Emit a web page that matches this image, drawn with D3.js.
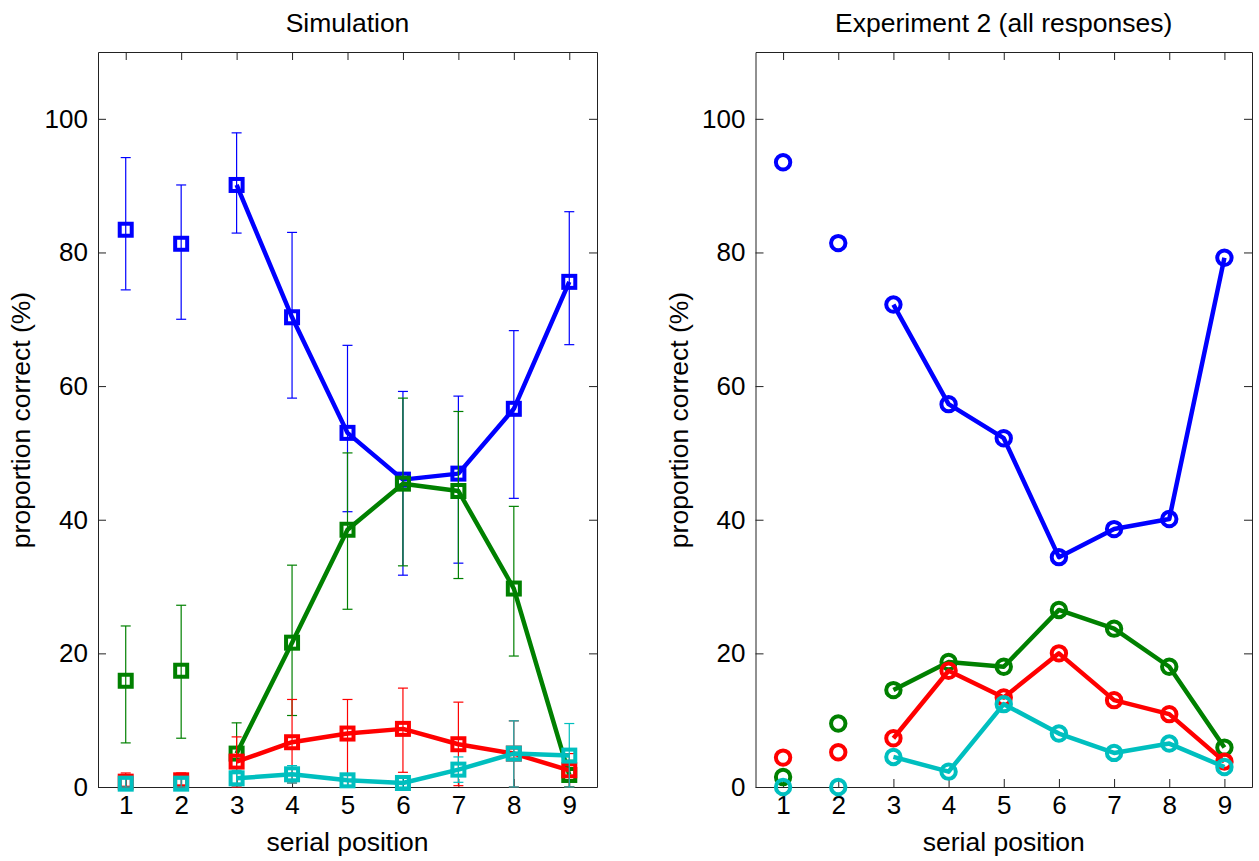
<!DOCTYPE html>
<html>
<head>
<meta charset="utf-8">
<script src="https://cdn.jsdelivr.net/npm/d3@7"></script>
<style>
  body { margin: 0; background: #fff; }
  svg text { font-family: "Liberation Sans", Arial, sans-serif; fill: #000; }
</style>
</head>
<body>
<div id="canvas"></div>
<script>
// serial positions
const positions = [1, 2, 3, 4, 5, 6, 7, 8, 9];
const yTicks = [0, 20, 40, 60, 80, 100];

// Simulation (means + error bar ends)
const simBlue    = [83.4, 81.3, 90.1, 70.3, 53.0, 46.0, 46.9, 56.6, 75.6];
const simBlueHi  = [94.2, 90.1, 97.9, 83.0, 66.1, 59.2, 58.5, 68.3, 86.1];
const simBlueLo  = [74.4, 70.0, 82.9, 58.2, 41.2, 31.7, 33.5, 43.2, 66.2];
const simGreen   = [15.9, 17.4, 5.0, 21.6, 38.5, 45.4, 44.3, 29.7, 1.8];
const simGreenHi = [24.1, 27.2, 9.6, 33.2, 50.0, 58.2, 56.2, 42.0, 4.0];
const simGreenLo = [6.6, 7.3, 0.5, 10.7, 26.6, 33.1, 31.2, 19.6, 0.0];
const simRed     = [0.8, 1.0, 3.8, 6.7, 8.0, 8.7, 6.4, 5.0, 2.5];
const simRedHi   = [2.1, 2.1, 7.5, 13.1, 13.1, 14.8, 12.7, 9.9, 5.0];
const simRedLo   = [0.0, 0.0, 0.0, 0.6, 0.9, 2.2, 0.2, 0.0, 0.0];
const simCyan    = [0.5, 0.5, 1.3, 1.9, 1.0, 0.6, 2.6, 5.0, 4.7];
const simCyanHi  = [1.2, 1.2, 2.5, 3.2, 2.0, 1.5, 4.5, 9.9, 9.5];
const simCyanLo  = [0.0, 0.0, 0.2, 0.6, 0.0, 0.0, 0.7, 0.0, 0.0];

// Experiment 2 (all responses)
const expBlue  = [93.5, 81.4, 72.2, 57.3, 52.2, 34.4, 38.6, 40.1, 79.2];
const expGreen = [1.5, 9.5, 14.5, 18.7, 18.0, 26.5, 23.7, 18.0, 5.9];
const expRed   = [4.4, 5.2, 7.3, 17.4, 13.4, 20.0, 13.0, 10.9, 3.8];
const expCyan  = [0.0, 0.0, 4.5, 2.3, 12.4, 8.0, 5.1, 6.5, 3.0];

const W = 1259, H = 861;
const svg = d3.select("#canvas").append("svg").attr("width", W).attr("height", H);

const panel = (x0, x1, title, series, marker) => {
  const x = d3.scaleLinear().domain([0.5, 9.5]).range([x0, x1]);
  const y = d3.scaleLinear().domain([0, 110]).range([787, 52]);
  const g = svg.append("g");

  const axes = [
    [d3.axisBottom(x).tickValues(positions).tickPadding(9), `translate(0,${y(0)})`],
    [d3.axisTop(x).tickValues(positions).tickFormat(""), `translate(0,${y(110)})`],
    [d3.axisLeft(y).tickValues(yTicks).tickPadding(10), `translate(${x0},0)`],
    [d3.axisRight(y).tickValues(yTicks).tickFormat(""), `translate(${x1},0)`]
  ];
  axes.forEach(([ax, tr]) => {
    const a = g.append("g").attr("transform", tr)
      .call(ax.tickSizeInner(-8).tickSizeOuter(0));
    a.selectAll("path,line").attr("stroke", "#222").attr("stroke-width", 1);
    a.selectAll("text").attr("font-size", 26).attr("font-family", "Liberation Sans, Arial, sans-serif");
  });

  g.append("text").attr("x", (x0 + x1) / 2).attr("y", 32)
    .attr("text-anchor", "middle").attr("font-size", 26.5).text(title);
  g.append("text").attr("x", (x0 + x1) / 2).attr("y", 851)
    .attr("text-anchor", "middle").attr("font-size", 26.5).text("serial position");
  g.append("text").attr("transform", `translate(${x0 - 68},420) rotate(-90)`)
    .attr("text-anchor", "middle").attr("font-size", 26.5).text("proportion correct (%)");

  const line = d3.line().x(d => x(d.p)).y(d => y(d.v));

  series.forEach(s => {
    const pts = positions.map((p, i) => ({ p, v: s.v[i], hi: s.hi ? s.hi[i] : null, lo: s.lo ? s.lo[i] : null }));
    const sg = g.append("g");
    if (s.hi) {
      const eb = sg.selectAll(".eb").data(pts).enter().append("g")
        .attr("stroke", s.color).attr("stroke-width", 1.2);
      eb.append("line").attr("x1", d => x(d.p)).attr("x2", d => x(d.p))
        .attr("y1", d => y(d.lo)).attr("y2", d => y(d.hi));
      eb.append("line").attr("x1", d => x(d.p) - 5).attr("x2", d => x(d.p) + 5)
        .attr("y1", d => y(d.hi)).attr("y2", d => y(d.hi));
      eb.append("line").attr("x1", d => x(d.p) - 5).attr("x2", d => x(d.p) + 5)
        .attr("y1", d => y(d.lo)).attr("y2", d => y(d.lo));
    }
    sg.append("path").datum(pts.filter(d => d.p >= 3))
      .attr("d", line).attr("fill", "none").attr("stroke", s.color)
      .attr("stroke-width", 4.5).attr("stroke-linejoin", "round");
    if (marker === "square") {
      sg.selectAll("rect").data(pts).enter().append("rect")
        .attr("x", d => x(d.p) - 6).attr("y", d => y(d.v) - 6)
        .attr("width", 12).attr("height", 12)
        .attr("fill", "none").attr("stroke", s.color).attr("stroke-width", 4);
    } else {
      sg.selectAll("circle").data(pts).enter().append("circle")
        .attr("cx", d => x(d.p)).attr("cy", d => y(d.v)).attr("r", 7.2)
        .attr("fill", "none").attr("stroke", s.color).attr("stroke-width", 4);
    }
  });
};

panel(98, 597, "Simulation", [
  { v: simBlue, hi: simBlueHi, lo: simBlueLo, color: "#0000ff" },
  { v: simGreen, hi: simGreenHi, lo: simGreenLo, color: "#008000" },
  { v: simRed, hi: simRedHi, lo: simRedLo, color: "#ff0000" },
  { v: simCyan, hi: simCyanHi, lo: simCyanLo, color: "#00bfbf" }
], "square");

panel(755.5, 1252, "Experiment 2 (all responses)", [
  { v: expBlue, color: "#0000ff" },
  { v: expGreen, color: "#008000" },
  { v: expRed, color: "#ff0000" },
  { v: expCyan, color: "#00bfbf" }
], "circle");
</script>
</body>
</html>
